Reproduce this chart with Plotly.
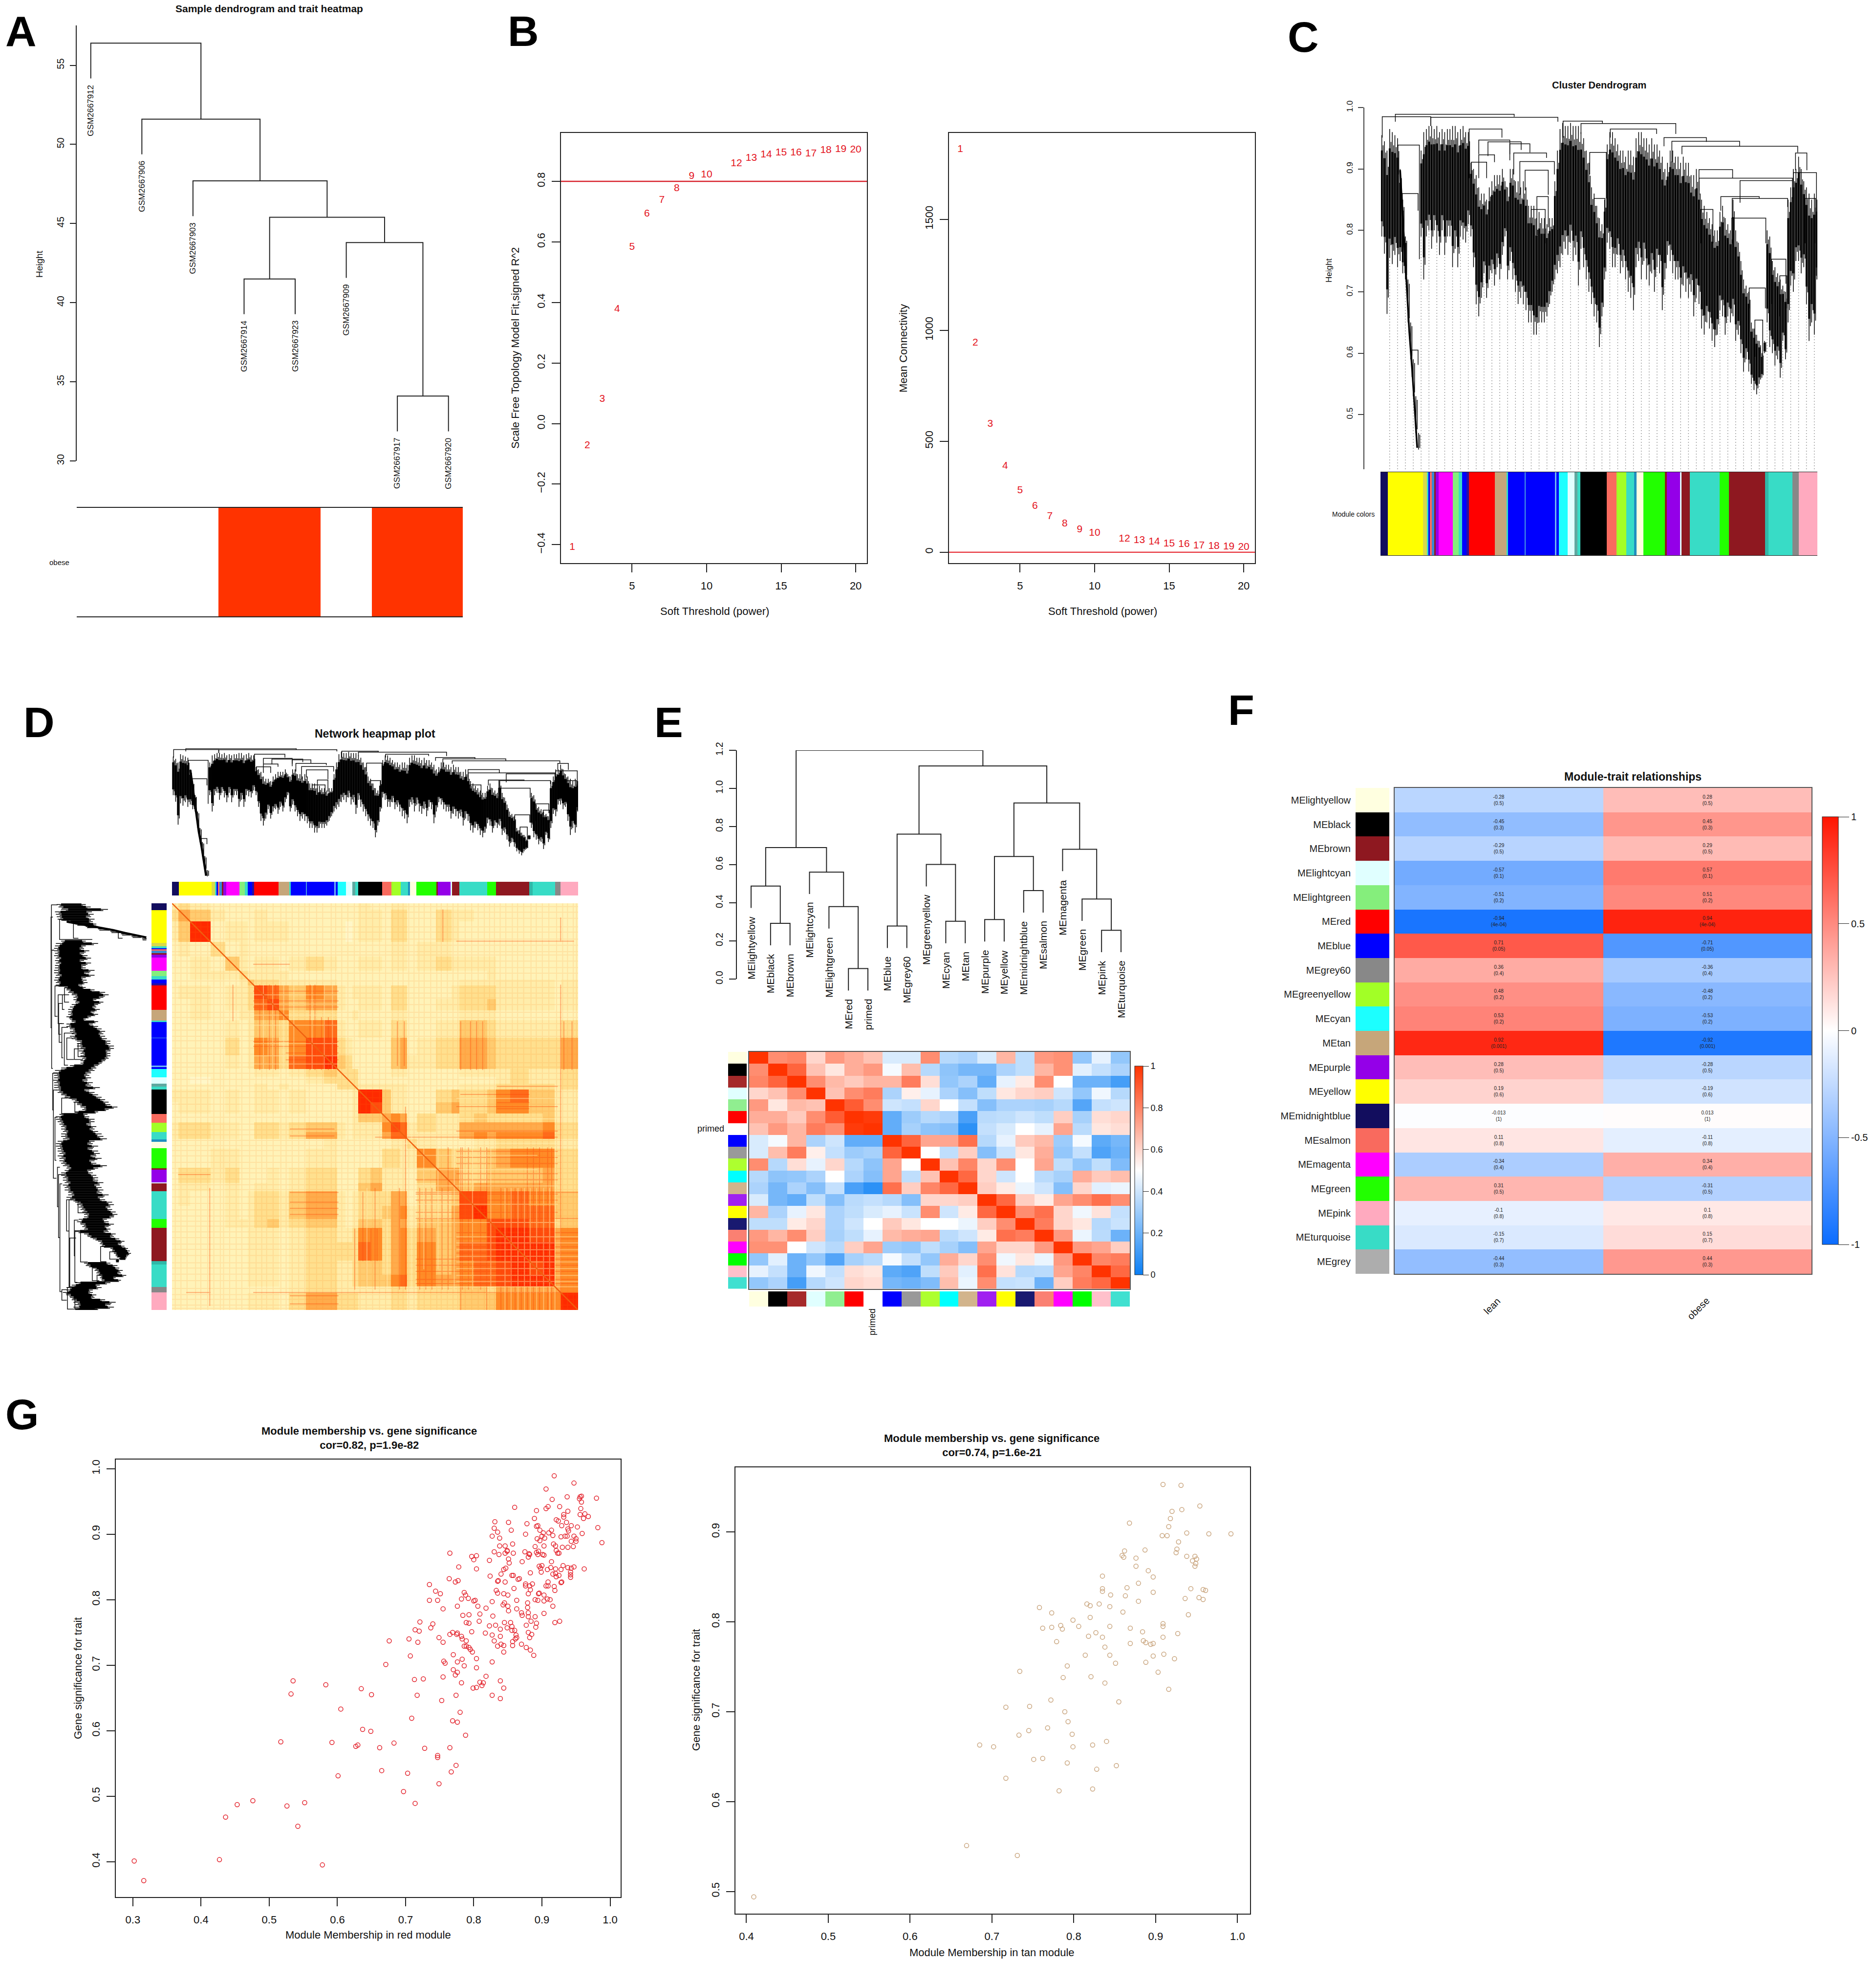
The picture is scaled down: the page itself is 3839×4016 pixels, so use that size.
import plotly.graph_objects as go

W = 3839
H = 4016

# ---- panel A
a_samples = ['GSM2667912', 'GSM2667906', 'GSM2667903', 'GSM2667914', 'GSM2667923', 'GSM2667909', 'GSM2667917', 'GSM2667920']
a_merge = [(-7, -8, 34.1), (-4, -5, 41.5), (-6, 1, 43.8), (2, 3, 45.4), (-3, 4, 47.7), (-2, 5, 51.6), (-1, 6, 56.4)]
a_obese = [0, 0, 0, 1, 1, 0, 1, 1]
a_edges = [0.725, 1.5, 2.5, 3.5, 4.5, 5.5, 6.5, 7.5, 8.28]

# ---- panel B
b_power = [1, 2, 3, 4, 5, 6, 7, 8, 9, 10, 12, 13, 14, 15, 16, 17, 18, 19, 20]
b_r2 = [-0.409, -0.073, 0.08, 0.377, 0.583, 0.693, 0.738, 0.776, 0.816, 0.821, 0.859, 0.876, 0.887, 0.895, 0.894, 0.891, 0.902, 0.906, 0.904]
b_k = [1814, 942, 577, 387, 277, 208, 161, 128, 102, 86, 60, 53, 46, 38, 35, 29, 26, 24, 22]

# ---- panels C and D : gene tree, read as envelope of the dense black part
tree_rank = [3, 9, 15, 21, 27, 33, 39, 45, 51, 57, 63, 69, 75, 81, 87, 93, 99, 105, 111, 117, 123, 129, 135, 141, 147, 153, 159, 165, 171, 177, 183, 189, 195, 201, 207, 213, 219, 225, 231, 237, 243, 249, 255, 261, 267, 273, 279, 285, 291, 297, 303, 309, 315, 321, 327, 333, 339, 345, 351, 357, 363, 369, 375, 381, 387, 393, 399, 405, 411, 417, 423, 429, 435, 441, 447, 453, 459, 465, 471, 477, 483, 489, 495, 501, 507, 513, 519, 525, 531, 537, 543, 549, 555, 561, 567, 573, 579, 585, 591, 597, 603, 609, 615, 621, 627, 633, 639, 645, 651, 657, 663, 669, 675, 681, 687, 693, 699, 705, 711, 717, 723, 729, 735, 741, 747, 753, 759, 765, 771, 777, 783, 789, 795, 801, 807, 813, 819, 825, 831, 837, 843, 849, 855, 861, 867, 873, 879, 885, 891, 897, 903, 909, 915, 921, 927, 933, 939, 945, 951, 957, 963, 969, 975, 981, 987, 993, 999]
tree_top = [.955, .945, .93, .965, .96, .955, .95, .90, .85, .79, .72, .65, .59, .53, .47, .93, .96, .965, .97, .97, .965, .97, .96, .965, .96, .965, .965, .97, .97, .96, .965, .97, .96, .96, .91, .90, .89, .87, .86, .86, .85, .87, .88, .89, .89, .89, .90, .88, .87, .90, .90, .88, .88, .87, .88, .87, .84, .84, .84, .82, .83, .82, .82, .81, .82, .82, .88, .93, .965, .975, .97, .97, .975, .97, .97, .97, .96, .95, .93, .91, .87, .86, .84, .82, .81, .85, .94, .96, .96, .95, .94, .93, .93, .92, .93, .93, .92, .95, .96, .96, .95, .95, .94, .95, .94, .94, .93, .92, .90, .91, .93, .93, .92, .92, .91, .92, .91, .91, .89, .89, .90, .88, .85, .84, .83, .82, .81, .80, .80, .83, .84, .82, .81, .80, .85, .80, .78, .75, .72, .71, .70, .65, .64, .63, .62, .60, .62, .80, .79, .75, .74, .73, .72, .71, .70, .85, .87, .90, .90, .92, .90, .88, .87, .86, .85, .86, .85]
tree_low = [.79, .762, .664, .755, .745, .76, .74, .75, .73, .72, .65, .59, .53, .47, .443, .79, .72, .79, .80, .77, .80, .78, .76, .80, .76, .79, .79, .74, .77, .74, .79, .785, .78, .81, .79, .74, .68, .66, .69, .73, .69, .72, .73, .71, .74, .72, .76, .79, .72, .75, .72, .70, .68, .69, .68, .67, .65, .65, .63, .63, .65, .65, .65, .66, .68, .70, .72, .73, .74, .76, .77, .76, .78, .75, .76, .71, .77, .74, .72, .70, .68, .66, .65, .61, .66, .72, .78, .77, .74, .74, .76, .73, .74, .72, .70, .69, .67, .74, .75, .72, .75, .72, .71, .73, .70, .74, .73, .67, .72, .76, .75, .73, .72, .72, .69, .71, .70, .69, .70, .66, .69, .68, .64, .63, .65, .64, .62, .61, .63, .67, .66, .63, .66, .65, .66, .62, .63, .60, .57, .59, .57, .55, .54, .533, .55, .56, .60, .65, .61, .60, .58, .59, .56, .62, .59, .65, .71, .70, .75, .75, .73, .74, .68, .62, .65, .63, .72]
# the long thin arm that runs down to the lowest leaf
tail_rank = [45, 57, 66, 73, 84]
tail_height = [.898, .753, .634, .568, .446]
# upper branches : left rank, right rank, join height, left leg end, right leg end
tree_branch = [
    (4, 115, .985, .951, .970), (34, 306, .989, .977, .985), (115, 406, .984, .970, .977),
    (418, 508, .978, .951, .974), (459, 676, .974, .957, .957), (526, 632, .965, .951, .957),
    (649, 746, .951, .937, .944), (667, 822, .945, .911, .937), (690, 955, .937, .924, .927),
    (203, 278, .965, .885, .951), (225, 296, .947, .924, .924), (246, 322, .944, .921, .931),
    (296, 342, .941, .914, .927), (225, 261, .923, .885, .911), (305, 380, .926, .891, .918),
    (319, 398, .912, .858, .891), (208, 243, .911, .885, .885), (331, 384, .898, .865, .858),
    (729, 806, .899, .865, .885), (729, 943, .885, .858, .881), (823, 943, .881, .845, .852),
    (779, 867, .855, .832, .852), (805, 932, .852, .819, .838), (804, 882, .820, .779, .779),
    (844, 881, .706, .673, .673), (857, 875, .654, .594, .594), (40, 89, .939, .891, .753),
    (50, 86, .860, .805, .832), (72, 86, .605, .561, .581), (479, 517, .927, .891, .852),
    (489, 514, .852, .779, .805), (733, 761, .834, .779, .779), (945, 998, .894, .845, .726),
    (972, 996, .852, .779, .779), (950, 976, .926, .898, .898), (358, 384, .855, .792, .805),
    (345, 377, .834, .726, .779), (895, 928, .753, .680, .713), (914, 930, .726, .660, .673),
]
mod_edges = [0, 17, 97, 106, 110, 113, 117, 123, 126, 133, 166, 179, 187, 197, 202, 262, 289, 292, 330, 332, 399, 403, 408, 428, 444, 451, 458, 518, 540, 563, 581, 586, 602, 651, 655, 686, 689, 708, 724, 776, 798, 809, 880, 888, 943, 957, 1000]
mod_colors = ['#120D5E', '#FFFF00', '#D9D94A', '#38DCC6', '#0000FF', '#F96A5E', '#3A8AD0', '#8E1820', '#9400E8', '#FF00FF', '#85EE7C', '#38DCC6', '#0000FF', '#2B0FA0', '#FF0000', '#C6A67A', '#38DCC6', '#0000FF', '#4A9AE0', '#0000FF', '#6FB8F0', '#0000FF', '#1CFFFF', '#E0FFFF', '#5FA8A0', '#38DCC6', '#000000', '#F96A5E', '#A2FF26', '#38DCC6', '#2090C0', '#FFFFE0', '#22FF00', '#8E1820', '#9400E8', '#E0FFFF', '#8E1820', '#38DCC6', '#38DCC6', '#22FF00', '#8E1820', '#8E1820', '#30B8A8', '#38DCC6', '#888888', '#FFAABF']

# ---- panel D : overlap read block by block, lower triangle, 0 pale to 9 red
d_edges = [0, 16, 45, 95, 131, 166, 187, 202, 235, 263, 287, 330, 374, 407, 427, 444, 458, 489, 517, 539, 562, 579, 603, 650, 688, 708, 744, 776, 798, 833, 879, 913, 942, 958, 1000]
d_rows = [
    '2',
    '35',
    '249',
    '1213',
    '11214',
    '112223',
    '1111124',
    '12212238',
    '112122378',
    '1121122556',
    '11112124436',
    '111131265368',
    '1111212553789',
    '11111112212343',
    '110111111112333',
    '1111111212111333',
    '22212112212111129',
    '122121122121111298',
    '1111111111111112445',
    '23322113323442122268',
    '233221133235521222577',
    '1111111111112111111223',
    '11122111111221111133226',
    '133231112123311134222145',
    '1221211221233111452221355',
    '12112123324552123335513348',
    '111121233245521233456233589',
    '1111222342344212443552445668',
    '11111122212332236635635456689',
    '111111222123333376356364577899',
    '1111112221233223443563645677898',
    '11111122212332234446736556778999',
    '111111111123322222233233344355555',
    '1111112221355333222332333444666669',
]
# streaks seen in the overlap map : rank, from rank, to rank (they appear mirrored)
d_hot = [(93, 700, 990), (667, 15, 95), (957, 35, 95), (216, 200, 410), (240, 200, 410), (255, 200, 410), (340, 200, 410), (352, 200, 410), (368, 280, 410),
         (385, 280, 410), (735, 290, 410), (750, 290, 410), (765, 290, 410), (965, 290, 410), (985, 290, 410), (555, 290, 400), (572, 290, 400), (150, 200, 290),
         (470, 710, 880), (490, 800, 880), (505, 800, 880), (810, 700, 1000), (825, 700, 1000), (845, 700, 1000), (860, 700, 1000), (875, 600, 1000), (890, 600, 1000),
         (905, 600, 1000), (925, 600, 1000), (935, 600, 1000), (715, 600, 950), (730, 600, 950), (760, 600, 950), (610, 700, 950), (625, 700, 950), (640, 700, 950),
         (665, 700, 950), (680, 600, 950), (560, 700, 950), (575, 500, 950), (500, 700, 950), (450, 800, 950), (957, 200, 1000), (711, 290, 410), (711, 600, 1000), (775, 600, 1000)]
d_pale = [(820, 700, 1000), (835, 700, 1000), (852, 700, 1000), (868, 700, 1000), (882, 700, 1000), (898, 700, 1000), (915, 700, 1000), (930, 700, 1000), (943, 600, 1000),
          (225, 200, 410), (248, 200, 410), (345, 200, 410), (375, 200, 410), (395, 200, 410), (300, 200, 410), (275, 200, 410), (620, 600, 900), (655, 600, 900), (695, 600, 950),
          (740, 600, 950), (785, 600, 950), (480, 700, 950), (530, 700, 950), (590, 500, 950)]
d_faint = [8, 22, 37, 58, 71, 88, 103, 119, 127, 142, 158, 172, 191, 207, 221, 233, 249, 268, 281, 296, 312, 327, 338, 356, 371, 392, 403, 418, 433, 449, 463, 478, 494, 511, 526, 543, 557, 569, 583, 596, 608, 621, 637, 652, 663, 678, 692, 704, 722, 738, 754, 769, 782, 794, 808, 822, 838, 851, 866, 884, 897, 912, 928, 947, 962, 974, 988, 996]

# ---- panel E
e_leaves = ['MElightyellow', 'MEblack', 'MEbrown', 'MElightcyan', 'MElightgreen', 'MEred', 'primed', 'MEblue', 'MEgrey60', 'MEgreenyellow', 'MEcyan', 'MEtan', 'MEpurple', 'MEyellow', 'MEmidnightblue', 'MEsalmon', 'MEmagenta', 'MEgreen', 'MEpink', 'MEturquoise']
e_merge = [(-6, -7, .055), (-5, 1, .38), (-4, 2, .561), (-2, -3, .292), (-1, 4, .488), (5, 3, .69), (-8, -9, .278), (-11, -12, .303), (-10, 8, .601), (7, 9, .76), (-13, -14, .312), (-15, -16, .464), (11, 12, .643), (-19, -20, .256), (-18, 14, .42), (-17, 15, .681), (13, 16, .924), (10, 17, 1.118), (6, 18, 1.2)]
e_ticks = [0, 0.2, 0.4, 0.6, 0.8, 1.0, 1.2]
e_colors = ['#FFFFE0', '#000000', '#A52A2A', '#E0FFFF', '#90EE90', '#FF0000', '#FFFFFF', '#0000FF', '#999999', '#ADFF2F', '#00FFFF', '#D2B48C', '#A020F0', '#FFFF00', '#191970', '#FA8072', '#FF00FF', '#00FF00', '#FFC0CB', '#40E0D0']
e_adj = [
    [1.0, .78, .8, .6, .75, .7, .65, .42, .42, .78, .35, .33, .42, .68, .37, .75, .77, .28, .45, .28],
    [.78, 1, .88, .65, .56, .7, .75, .48, .66, .35, .27, .22, .22, .33, .37, .68, .77, .44, .38, .33],
    [.8, .88, 1, .78, .67, .63, .68, .68, .82, .58, .28, .33, .18, .45, .55, .78, .5, .2, .2, .12],
    [.6, .65, .78, 1, .65, .78, .82, .33, .54, .45, .33, .25, .37, .56, .6, .62, .4, .28, .47, .35],
    [.75, .56, .67, .65, 1, .9, .78, .4, .38, .6, .5, .38, .25, .33, .33, .32, .35, .15, .38, .4],
    [.7, .7, .63, .78, .9, 1, .98, .18, .3, .35, .33, .13, .36, .37, .4, .37, .62, .32, .58, .6],
    [.65, .75, .68, .82, .78, .98, 1, .18, .32, .27, .25, .07, .38, .42, .5, .45, .72, .36, .56, .58],
    [.42, .48, .68, .33, .4, .18, .18, 1, .88, .72, .72, .85, .35, .45, .63, .67, .3, .48, .17, .22],
    [.42, .66, .82, .54, .38, .3, .32, .88, 1, .5, .37, .62, .25, .39, .56, .7, .28, .38, .14, .2],
    [.78, .35, .58, .45, .6, .35, .27, .72, .5, 1, .65, .8, .6, .78, .5, .72, .37, .28, .37, .24],
    [.35, .27, .28, .33, .5, .33, .25, .72, .37, .65, 1, .87, .6, .4, .5, .36, .32, .7, .63, .66],
    [.33, .22, .33, .25, .38, .13, .07, .85, .62, .8, .87, 1, .62, .55, .46, .4, .25, .6, .44, .46],
    [.42, .22, .18, .37, .25, .36, .38, .35, .25, .6, .6, .62, 1, .87, .62, .55, .72, .78, .85, .78],
    [.68, .33, .45, .56, .33, .37, .42, .45, .39, .78, .4, .55, .87, 1, .78, .85, .6, .47, .57, .38],
    [.37, .37, .55, .6, .33, .4, .5, .63, .56, .5, .5, .46, .62, .78, 1, .82, .6, .56, .35, .39],
    [.75, .68, .78, .62, .32, .37, .45, .67, .7, .72, .36, .4, .55, .85, .82, 1, .75, .46, .36, .2],
    [.77, .77, .5, .4, .35, .62, .72, .3, .28, .37, .32, .25, .72, .6, .6, .75, 1, .75, .72, .62],
    [.28, .44, .2, .28, .15, .32, .36, .48, .38, .28, .7, .6, .78, .47, .56, .46, .75, 1, .8, .82],
    [.45, .38, .2, .47, .38, .58, .56, .17, .14, .37, .63, .44, .85, .57, .35, .36, .72, .8, 1, .87],
    [.28, .33, .12, .35, .4, .6, .58, .22, .2, .24, .66, .46, .78, .38, .39, .2, .62, .82, .87, 1],
]

# ---- panel F
f_modules = ['MElightyellow', 'MEblack', 'MEbrown', 'MElightcyan', 'MElightgreen', 'MEred', 'MEblue', 'MEgrey60', 'MEgreenyellow', 'MEcyan', 'MEtan', 'MEpurple', 'MEyellow', 'MEmidnightblue', 'MEsalmon', 'MEmagenta', 'MEgreen', 'MEpink', 'MEturquoise', 'MEgrey']
f_colors = ['#FFFFE0', '#000000', '#8E1820', '#E0FFFF', '#85EE7C', '#FF0000', '#0000FF', '#888888', '#A2FF26', '#1CFFFF', '#C6A67A', '#9400E8', '#FFFF00', '#120D5E', '#F96A5E', '#FF00FF', '#22FF00', '#FFAABF', '#38DCC6', '#ADADAD']
f_lean = [-0.28, -0.45, -0.29, -0.57, -0.51, -0.94, 0.71, 0.36, 0.48, 0.53, 0.92, 0.28, 0.19, -0.013, 0.11, -0.34, 0.31, -0.1, -0.15, -0.44]
f_obese = [0.28, 0.45, 0.29, 0.57, 0.51, 0.94, -0.71, -0.36, -0.48, -0.53, -0.92, -0.28, -0.19, 0.013, -0.11, 0.34, -0.31, 0.1, 0.15, 0.44]
f_pval = ['0.5', '0.3', '0.5', '0.1', '0.2', '4e-04', '0.05', '0.4', '0.2', '0.2', '0.001', '0.5', '0.6', '1', '0.8', '0.4', '0.5', '0.8', '0.7', '0.3']

# ---- panel G
g1_mm = [.302, .316, .427, .436, .453, .476, .526, .552, .542, .578, .517, .532, .535, .583, .605, .592, .601, .635, .650, .637, .649, .627, .630, .662, .683, .665, .676, .671, .705, .707, .718, .714, .720, .721, .740, .737, .735, .744, .751, .747, .735, .755, .765, .764, .773, .777, .778, .713, .726, .717, .709, .728, .703, .697, .714, .747, .747, .749, .765, .774, .767, .788, .769, .776, .780, .753, .774, .782, .755, .773, .776, .770, .786, .758, .756, .776, .783, .770, .749, .755, .765, .769, .775, .776, .782, .783, .789, .786, .789, .793, .795, .798, .804, .804, .799, .804, .809, .814, .812, .818, .827, .827, .839, .839, .844,
         .784, .793, .789, .793, .797, .808, .817, .823, .828, .809, .818, .806, .792, .782, .786, .788, .776, .800, .802, .827, .824, .804, .823, .797, .800, .804, .833, .835, .835, .836, .827, .830, .832, .839, .839, .840, .835, .845, .844, .844, .849, .854, .856, .856, .860, .862, .863, .861, .857, .857, .870, .877, .883, .888, .877, .880, .885, .882, .884, .891, .892, .890, .880, .880, .879, .879, .870, .871, .863, .863, .851, .850, .843, .845, .850, .844, .859, .880, .883, .886, .876, .876, .882, .865, .867, .846, .856, .858, .840, .847, .844, .883,
         .890, .894, .896, .895, .903, .903, .908, .912, .903, .916, .919, .926, .919, .918, .906, .909, .909, .928, .929,
         .837, .846, .849, .849, .830, .838, .846, .851, .852, .871, .858, .875, .880, .881, .882, .857, .838, .827, .835, .830, .831, .851, .855, .876, .878, .860, .889, .892, .892, .894, .893, .897, .890, .895, .892, .894, .901, .903, .903, .904, .900, .902, .897, .896, .900, .898, .899, .908, .913, .914, .916, .920, .920, .921, .925, .928, .931, .938, .943, .942, .942, .942, .947, .962,
         .906, .909, .906, .915, .918, .947, .937, .926, .938, .932, .932, .936, .921, .924, .929, .943, .938, .939, .914, .910, .916, .928, .934, .937, .917, .920, .921, .923, .925, .930, .938, .943, .946, .947, .950, .950, .952, .959, .955, .956, .958, .958, .957, .956, .961, .963, .968, .980, .982, .988]
g1_gs = [.401, .371, .403, .468, .487, .493, .485, .490, .454, .395, .583, .656, .676, .670, .633, .582, .531, .664, .655, .602, .599, .576, .578, .574, .581, .539, .737, .701, .740, .714, .735, .754, .752, .766, .763, .757, .823, .813, .809, .799, .799, .786, .871, .832, .827, .829, .850, .678, .679, .654, .619, .573, .535, .507, .489, .559, .562, .519, .574, .547, .537, .593, .615, .613, .628, .646, .654, .673, .682, .685, .689, .693, .699, .703, .706, .705, .709, .716, .742, .735, .747, .750, .747, .749, .744, .740, .737, .729, .729, .727, .724, .720, .710, .696, .665, .666, .674, .673, .669, .683, .705, .654, .649, .676, .665,
         .776, .777, .765, .764, .751, .767, .749, .760, .775, .778, .787, .790, .802, .801, .811, .807, .790, .798, .799, .797, .836, .847, .860, .866, .861, .867, .814, .810, .828, .829, .746, .737, .761, .755, .744, .732, .729, .765, .730, .720, .757, .765, .759, .753, .753, .746, .742, .740, .736, .730, .732, .727, .723, .715, .761, .750, .747, .742, .767, .758, .764, .774, .774, .780, .788, .795, .780, .776, .786, .799, .783, .790, .792, .795, .807, .809, .817, .809, .815, .824, .824, .821, .821, .831, .832, .827, .837, .837, .839, .848, .846, .841,
         .800, .799, .810, .809, .798, .807, .801, .800, .779, .790, .765, .767, .814, .820, .821, .821, .827, .826, .827,
         .869, .871, .874, .875, .873, .882, .882, .862, .856, .858, .871, .873, .865, .870, .869, .885, .894, .897, .903, .909, .919, .918, .906, .900, .916, .941, .924, .936, .912, .913, .893, .890, .881, .874, .872, .869, .869, .868, .882, .894, .897, .902, .906, .851, .852, .848, .842, .846, .849, .858, .839, .847, .840, .835, .837, .846, .852, .849, .848, .842, .838, .834, .850, .847,
         .939, .942, .969, .953, .989, .978, .957, .942, .935, .930, .926, .918, .922, .920, .913, .913, .908, .905, .906, .902, .898, .896, .897, .897, .885, .882, .875, .871, .871, .880, .880, .889, .881, .897, .893, .889, .911, .901, .954, .957, .958, .949, .939, .930, .924, .931, .927, .955, .910, .887]
g2_mm = [.409, .669, .731, .685, .702, .717, .717, .734, .733, .745, .746, .768, .751, .762, .782, .772, .789, .793, .798, .799, .792, .823, .823, .828, .840, .852, .855, .787, .792, .821, .838, .814, .779, .762, .758, .773, .773, .784, .786, .799, .806, .818, .827, .835, .838, .844, .851, .844, .820, .820, .816, .831, .844, .860, .879, .863, .845, .835, .835, .835, .865, .879, .897, .897, .891, .876, .876, .859, .861, .862, .887, .868, .869, .884, .869, .885, .888, .894, .897, .897, .888, .903, .916, .923, .910, .909, .927, .909, .909, .940, .936, .953, .958, .943, .958, .961, .925, .926, .928, .938, .948, .950, .945, .949, .948, .908, .914, .916, .918, .920, .932, .938, .954, .965, .992, .909, .931]
g2_gs = [.494, .551, .540, .663, .661, .705, .626, .745, .674, .679, .706, .682, .647, .648, .612, .713, .700, .689, .675, .661, .643, .663, .614, .636, .667, .640, .711, .738, .751, .739, .732, .763, .778, .793, .816, .810, .794, .796, .792, .802, .795, .784, .788, .783, .772, .763, .754, .795, .805, .818, .820, .820, .817, .811, .823, .829, .830, .834, .837, .851, .838, .843, .833, .850, .857, .862, .871, .874, .872, .879, .880, .910, .793, .789, .776, .779, .777, .775, .776, .762, .755, .744, .725, .759, .764, .783, .787, .795, .798, .808, .826, .827, .825, .837, .836, .835, .877, .881, .889, .873, .873, .870, .868, .865, .862, .896, .896, .906, .915, .923, .925, .899, .929, .898, .898, .953, .952]

FONT = 'Liberation Sans'
INK = '#222222'
RED_TXT = '#E4141E'

fig = go.Figure()
n_axes = 0


def new_axes(x0, x1, y0, y1, xr, yr, xkw=None, ykw=None):
    # pixel box of the reference -> axis domains
    global n_axes
    n_axes += 1
    s = '' if n_axes == 1 else str(n_axes)
    xa = dict(domain=[x0 / W, x1 / W], range=xr, anchor='y' + s, visible=False, showgrid=False, zeroline=False)
    ya = dict(domain=[1 - y1 / H, 1 - y0 / H], range=yr, anchor='x' + s, visible=False, showgrid=False, zeroline=False)
    xa.update(xkw or {})
    ya.update(ykw or {})
    fig.layout['xaxis' + s] = xa
    fig.layout['yaxis' + s] = ya
    return 'x' + s, 'y' + s


def axis_style(size=21, ticklen=14, standoff=6, angle=0, box=False, width=2):
    d = dict(visible=True, showline=True, linecolor=INK, linewidth=width, ticks='outside', ticklen=ticklen,
             tickwidth=width, tickcolor=INK, tickfont=dict(size=size, color='#111111', family=FONT),
             ticklabelstandoff=standoff, tickangle=angle)
    if box:
        d['mirror'] = True
    return d


notes = []


def text_at(px, py, txt, size, bold=False, angle=0, xanchor='center', yanchor='middle', color='#111111'):
    if bold:
        txt = '<b>' + txt + '</b>'
    notes.append(dict(x=px / W, y=1 - py / H, xref='paper', yref='paper', text=txt, showarrow=False, textangle=angle,
                      xanchor=xanchor, yanchor=yanchor, font=dict(size=size, color=color, family=FONT)))


def strip(xa, ya, edges, colors, vertical=False):
    n = len(colors)
    scale = [[i / (n - 1), c] for i, c in enumerate(colors)]
    idx = list(range(n))
    if vertical:
        fig.add_trace(go.Heatmap(x=[0, 1], y=edges, z=[[i] for i in idx], colorscale=scale, zmin=0, zmax=n - 1,
                                 showscale=False, hoverinfo='skip', xaxis=xa, yaxis=ya))
    else:
        fig.add_trace(go.Heatmap(x=edges, y=[0, 1], z=[idx], colorscale=scale, zmin=0, zmax=n - 1,
                                 showscale=False, hoverinfo='skip', xaxis=xa, yaxis=ya))


def dendro(xa, ya, merge, hang, width=2):
    # merge is written like hclust : negative = leaf number, positive = earlier merge
    pos = {}
    xs, ys = [], []
    tips = {}
    for k, (a, b, h) in enumerate(merge, start=1):
        ends = []
        for m in (a, b):
            if m < 0:
                ends.append((-m, h - hang))
                tips[-m] = h - hang
            else:
                ends.append(pos[m])
        xs += [ends[0][0], ends[0][0], ends[1][0], ends[1][0], None]
        ys += [ends[0][1], h, h, ends[1][1], None]
        pos[k] = ((ends[0][0] + ends[1][0]) / 2, h)
    fig.add_trace(go.Scatter(x=xs, y=ys, mode='lines', line=dict(color=INK, width=width), hoverinfo='skip', xaxis=xa, yaxis=ya))
    return tips


def gene_tree(xa, ya, core_w, thin_w, swap=False):
    # thin full-length twigs, and a thicker dense part in the middle of each twig
    tx, ty, cx, cy = [], [], [], []
    for r, t, l in zip(tree_rank, tree_top, tree_low):
        tx += [r, r, None, r + 3, r + 3, None]
        ty += [t, l, None, t - (t - l) * 0.1, l + (t - l) * 0.1, None]
        if r < 60 or r > 90:
            cx += [r, r, None]
            cy += [t - (t - l) * 0.15, l + (t - l) * 0.15, None]
    bx, by = [], []
    for x0, x1, h, yl, yr in tree_branch:
        bx += [x0, x0, x1, x1, None]
        by += [yl, h, h, yr, None]
    ax, ay = tail_rank, tail_height
    if swap:
        tx, ty = ty, tx
        cx, cy = cy, cx
        bx, by = by, bx
        ax, ay = ay, ax
    fig.add_trace(go.Scatter(x=bx, y=by, mode='lines', line=dict(color='#111111', width=thin_w), hoverinfo='skip', xaxis=xa, yaxis=ya))
    fig.add_trace(go.Scatter(x=tx, y=ty, mode='lines', line=dict(color='#000000', width=thin_w), hoverinfo='skip', xaxis=xa, yaxis=ya))
    fig.add_trace(go.Scatter(x=cx, y=cy, mode='lines', line=dict(color='#000000', width=core_w), hoverinfo='skip', xaxis=xa, yaxis=ya))
    fig.add_trace(go.Scatter(x=ax, y=ay, mode='lines', line=dict(color='#000000', width=core_w), hoverinfo='skip', xaxis=xa, yaxis=ya))


def streaks(xa, ya, rows, color, width, opacity):
    xs, ys = [], []
    for r, a, b in rows:
        xs += [r, r, None, a, b, None]
        ys += [a, b, None, r, r, None]
    fig.add_trace(go.Scatter(x=xs, y=ys, mode='lines', opacity=opacity, line=dict(color=color, width=width), hoverinfo='skip', xaxis=xa, yaxis=ya))


# ---------- A
xa, ya = new_axes(157, 947, 52, 943, [0.725, 8.28], [30, 57.52], ykw=dict(axis_style(20, 12, 4, -90), tickvals=[30, 35, 40, 45, 50, 55]))
tips = dendro(xa, ya, a_merge, 2.23)
for i, lab in enumerate(a_samples, start=1):
    notes.append(dict(x=i, y=tips[i], xref=xa, yref=ya, text=lab, showarrow=False, textangle=-90, yanchor='top', yshift=-11,
                      font=dict(size=17, color='#111111', family=FONT)))
xa, ya = new_axes(157, 947, 1039, 1261, [0.725, 8.28], [0, 1], xkw=dict(visible=True, showline=True, mirror=True, linecolor=INK, linewidth=2, ticks='', showticklabels=False))
fig.add_trace(go.Heatmap(x=a_edges, y=[0, 1], z=[a_obese], colorscale=[[0, '#FFFFFF'], [1, '#FF3300']], zmin=0, zmax=1, showscale=False, hoverinfo='skip', xaxis=xa, yaxis=ya))
text_at(551, 18, 'Sample dendrogram and trait heatmap', 21, bold=True)
text_at(80, 540, 'Height', 19, angle=-90)
text_at(121, 1150, 'obese', 15)

# ---------- B
xa, ya = new_axes(1148, 1774, 272, 1152, [0.24, 20.75], [-0.461, 0.96],
                  xkw=dict(axis_style(22, 17, 9, 0, True), tickvals=[5, 10, 15, 20]),
                  ykw=dict(axis_style(22, 17, 5, -90, True), tickvals=[-0.4, -0.2, 0, 0.2, 0.4, 0.6, 0.8], ticktext=['\u22120.4', '\u22120.2', '0.0', '0.2', '0.4', '0.6', '0.8']))
fig.add_trace(go.Scatter(x=[0.24, 20.75], y=[0.8, 0.8], mode='lines', line=dict(color='#D8222C', width=2.5), hoverinfo='skip', xaxis=xa, yaxis=ya))
fig.add_trace(go.Scatter(x=b_power, y=b_r2, mode='text', text=b_power, textfont=dict(size=21, color=RED_TXT, family=FONT), hoverinfo='skip', xaxis=xa, yaxis=ya))
xa, ya = new_axes(1942, 2568, 272, 1152, [0.24, 20.75], [-49, 1889],
                  xkw=dict(axis_style(22, 17, 9, 0, True), tickvals=[5, 10, 15, 20]),
                  ykw=dict(axis_style(22, 17, 5, -90, True), tickvals=[0, 500, 1000, 1500]))
fig.add_trace(go.Scatter(x=[0.24, 20.75], y=[0, 0], mode='lines', line=dict(color='#E4141E', width=2), hoverinfo='skip', xaxis=xa, yaxis=ya))
fig.add_trace(go.Scatter(x=b_power, y=b_k, mode='text', text=b_power, textfont=dict(size=21, color=RED_TXT, family=FONT), hoverinfo='skip', xaxis=xa, yaxis=ya))
text_at(1462, 1250, 'Soft Threshold (power)', 22)
text_at(2256, 1250, 'Soft Threshold (power)', 22)
text_at(1054, 712, 'Scale Free Topology Model Fit,signed R^2', 22, angle=-90)
text_at(1848, 713, 'Mean Connectivity', 22, angle=-90)

# ---------- C
xa, ya = new_axes(2825, 3719, 220, 960, [0, 1000], [0.411, 1.0],
                  ykw=dict(axis_style(17, 11, 4, -90), tickvals=[0.5, 0.6, 0.7, 0.8, 0.9, 1.0], tickformat='.1f', anchor='free', position=2791 / W, linecolor='#444444', tickcolor='#444444'))
gx, gy = [], []
for r, l in zip(tree_rank[3::3], tree_low[3::3]):
    gx += [r, r, None]
    gy += [0.411, l, None]
fig.add_trace(go.Scatter(x=gx, y=gy, mode='lines', line=dict(color='#999999', width=1.5, dash='2px,4px'), hoverinfo='skip', xaxis=xa, yaxis=ya))
gene_tree(xa, ya, 3.5, 1.5)
xa, ya = new_axes(2825, 3719, 966, 1136, [0, 1000], [0, 1], xkw=dict(visible=True, showline=True, mirror=True, linecolor='#222222', linewidth=1, ticks='', showticklabels=False))
strip(xa, ya, mod_edges, mod_colors)
text_at(3272, 174, 'Cluster Dendrogram', 20, bold=True)
text_at(2719, 554, 'Height', 17, angle=-90)
text_at(2769, 1052, 'Module colors', 14)

# ---------- D
xa, ya = new_axes(352, 1183, 1531, 1793, [0, 1000], [0.443, 0.99])
gene_tree(xa, ya, 4.5, 1.5)
xa, ya = new_axes(352, 1183, 1804, 1832, [0, 1000], [0, 1])
strip(xa, ya, mod_edges, mod_colors)
xa, ya = new_axes(103.5, 300.5, 1848, 2680, [0.99, 0.443], [1000, 0])
gene_tree(xa, ya, 4.5, 1.5, swap=True)
xa, ya = new_axes(310, 341, 1848, 2680, [0, 1], [1000, 0])
strip(xa, ya, mod_edges, mod_colors, vertical=True)
n = len(d_rows)
d_z = [[0] * n for _ in range(n)]
for i, row in enumerate(d_rows):
    for j, ch in enumerate(row):
        d_z[i][j] = int(ch)
        d_z[j][i] = int(ch)
xa, ya = new_axes(352, 1183, 1848, 2680, [0, 1000], [1000, 0])
fig.add_trace(go.Heatmap(x=d_edges, y=d_edges, z=d_z, zmin=0, zmax=9, showscale=False, hoverinfo='skip',
                         colorscale=[[0, '#FFF7C8'], [1 / 9, '#FFF3B8'], [2 / 9, '#FFEDAA'], [3 / 9, '#FFE08E'], [4 / 9, '#FFCC70'], [6 / 9, '#FF8C28'], [1, '#FF2A00']], xaxis=xa, yaxis=ya))
fx, fy = [], []
for r in d_faint:
    fx += [r, r, None, 0, 1000, None]
    fy += [0, 1000, None, r, r, None]
fig.add_trace(go.Scatter(x=fx, y=fy, mode='lines', opacity=0.13, line=dict(color='#FF7A10', width=2), hoverinfo='skip', xaxis=xa, yaxis=ya))
streaks(xa, ya, d_hot, '#FF4A08', 2, 0.4)
streaks(xa, ya, d_pale, '#FFF1B4', 2, 0.45)
fig.add_trace(go.Scatter(x=[0, 1000], y=[0, 1000], mode='lines', line=dict(color='#F06010', width=2.5), hoverinfo='skip', xaxis=xa, yaxis=ya))
text_at(767, 1501, 'Network heapmap plot', 23, bold=True)

# ---------- E
xa, ya = new_axes(1537, 2294, 1535, 2003, [1, 20], [0, 1.2],
                  ykw=dict(axis_style(20, 14, 5, -90), tickvals=e_ticks, tickformat='.1f', anchor='free', position=1507 / W))
fig.add_trace(go.Scatter(x=[1] * len(e_ticks), y=e_ticks, mode='markers', marker=dict(opacity=0), hoverinfo='skip', xaxis=xa, yaxis=ya))
# leaves of red and primed hang below zero, so the tree has a taller hidden axis
xa, ya = new_axes(1537, 2294, 1535, 2120, [1, 20], [-0.3, 1.2], xkw=dict(range=[0.9, 20.1], domain=[(1537 - 4) / W, (2294 + 4) / W]))
tips = dendro(xa, ya, e_merge, 0.115)
for i, lab in enumerate(e_leaves, start=1):
    notes.append(dict(x=i, y=tips[i], xref=xa, yref=ya, text=lab, showarrow=False, textangle=-90, yanchor='top', yshift=-15,
                      font=dict(size=21, color='#111111', family=FONT)))
xa, ya = new_axes(1533, 2312, 2152, 2636.5, [-0.5, 19.5], [19.5, -0.5],
                  xkw=dict(visible=True, showline=True, mirror=True, linecolor='#555555', linewidth=2, ticks='', showticklabels=False),
                  ykw=dict(visible=True, showline=True, mirror=True, linecolor='#555555', linewidth=2, ticks='', showticklabels=False))
fig.add_trace(go.Heatmap(z=e_adj, zmin=0, zmax=1, hoverinfo='skip', xaxis=xa, yaxis=ya,
                         colorscale=[[0, '#0A7FF5'], [0.5, '#FFFFFF'], [1, '#FF3300']],
                         colorbar=dict(x=2322 / W, xanchor='left', y=1 - 2608 / H, yanchor='bottom', len=427 / H, thickness=17, xpad=0, ypad=0,
                                       outlinewidth=1, outlinecolor='#222222', ticks='outside', ticklen=12, tickcolor='#222222',
                                       tickvals=[0, 0.2, 0.4, 0.6, 0.8, 1], ticktext=['0', '0.2', '0.4', '0.6', '0.8', '1'],
                                       tickfont=dict(size=18, color='#111111', family=FONT))))
xa, ya = new_axes(1490, 1528, 2152, 2636.5, [0, 1], [20, 0])
strip(xa, ya, list(range(21)), e_colors, vertical=True)
xa, ya = new_axes(1533, 2312, 2642, 2673, [0, 20], [0, 1])
strip(xa, ya, list(range(21)), e_colors)
text_at(1484, 2309, 'primed', 18, xanchor='right')
text_at(1784.5, 2675, 'primed', 18, angle=-90, yanchor='top')

# ---------- F
f_z = [[a, b] for a, b in zip(f_lean, f_obese)]
f_txt = [['%s<br>(%s)' % (a, p), '%s<br>(%s)' % (b, p)] for a, b, p in zip(f_lean, f_obese, f_pval)]
xa, ya = new_axes(2854, 3707, 1612, 2606, [-0.5, 1.5], [19.5, -0.5],
                  xkw=dict(visible=True, showline=True, mirror=True, linecolor='#555555', linewidth=2, ticks='', showticklabels=False),
                  ykw=dict(visible=True, showline=True, mirror=True, linecolor='#555555', linewidth=2, ticks='', showticklabels=False))
fig.add_trace(go.Heatmap(z=f_z, text=f_txt, texttemplate='%{text}', textfont=dict(size=10, color='#222222', family=FONT), zmin=-1, zmax=1, hoverinfo='skip', xaxis=xa, yaxis=ya,
                         colorscale=[[0, '#0A6CFF'], [0.5, '#FFFFFF'], [1, '#FF1500']],
                         colorbar=dict(x=3729 / W, xanchor='left', y=1 - 2546 / H, yanchor='bottom', len=875 / H, thickness=33, xpad=0, ypad=0,
                                       outlinewidth=1, outlinecolor='#222222', ticks='outside', ticklen=22, tickcolor='#222222',
                                       tickvals=[-1, -0.5, 0, 0.5, 1], ticktext=['-1', '-0.5', '0', '0.5', '1'],
                                       tickfont=dict(size=20, color='#111111', family=FONT))))
xa, ya = new_axes(2774, 2843, 1612, 2606, [0, 1], [20, 0],
                  ykw=dict(visible=True, showline=False, ticks='', tickvals=[i + 0.5 for i in range(20)], ticktext=f_modules, ticklabelstandoff=9,
                           tickfont=dict(size=20, color='#222222', family=FONT)))
strip(xa, ya, list(range(21)), f_colors, vertical=True)
text_at(3341, 1589, 'Module-trait relationships', 23, bold=True)
text_at(3053, 2671.5, 'lean', 20, angle=-45)
text_at(3475, 2676.5, 'obese', 20, angle=-45)

# ---------- G
xa, ya = new_axes(237, 1270, 2986, 3881, [0.275, 1.0154], [0.346, 1.0139],
                  xkw=dict(axis_style(22, 17, 9, 0, True, 1.5), tickvals=[0.3, 0.4, 0.5, 0.6, 0.7, 0.8, 0.9, 1.0], tickformat='.1f'),
                  ykw=dict(axis_style(22, 17, 5, -90, True, 1.5), tickvals=[0.4, 0.5, 0.6, 0.7, 0.8, 0.9, 1.0], tickformat='.1f'))
fig.add_trace(go.Scatter(x=g1_mm, y=g1_gs, mode='markers', marker=dict(symbol='circle-open', size=9, color='#E3202A', line=dict(width=1.5, color='#E3202A')), hoverinfo='skip', xaxis=xa, yaxis=ya))
xa, ya = new_axes(1505, 2558, 3002, 3915, [0.3866, 1.0153], [0.4753, 0.972],
                  xkw=dict(axis_style(22, 17, 9, 0, True, 1.5), tickvals=[0.4, 0.5, 0.6, 0.7, 0.8, 0.9, 1.0], tickformat='.1f'),
                  ykw=dict(axis_style(22, 17, 5, -90, True, 1.5), tickvals=[0.5, 0.6, 0.7, 0.8, 0.9], tickformat='.1f'))
fig.add_trace(go.Scatter(x=g2_mm, y=g2_gs, mode='markers', marker=dict(symbol='circle-open', size=9, color='#C9A57E', line=dict(width=1.5, color='#C9A57E')), hoverinfo='skip', xaxis=xa, yaxis=ya))
text_at(755, 2942, 'Module membership vs. gene significance<br>cor=0.82, p=1.9e-82', 22, bold=True)
text_at(2030, 2957, 'Module membership vs. gene significance<br>cor=0.74, p=1.6e-21', 22, bold=True)
text_at(753, 3958, 'Module Membership in red module', 22)
text_at(2030, 3994, 'Module Membership in tan module', 22)
text_at(159, 3434, 'Gene significance for trait', 22, angle=-90)
text_at(1424, 3458, 'Gene significance for trait', 22, angle=-90)

# panel letters
for (px, py, letter) in [(43, 64, 'A'), (1071, 64, 'B'), (2667, 75, 'C'), (80, 1477, 'D'), (1368, 1477, 'E'), (2540, 1452, 'F'), (45, 2893, 'G')]:
    text_at(px, py, letter, 88, bold=True, color='#000000')

fig.update_layout(width=W, height=H, margin=dict(l=0, r=0, t=0, b=0, pad=0, autoexpand=False), paper_bgcolor='white', plot_bgcolor='rgba(0,0,0,0)',
                  showlegend=False, font=dict(family=FONT), annotations=notes)
fig.write_html("out.html", post_script="document.body.style.margin='0'", config=dict(displayModeBar=False))
